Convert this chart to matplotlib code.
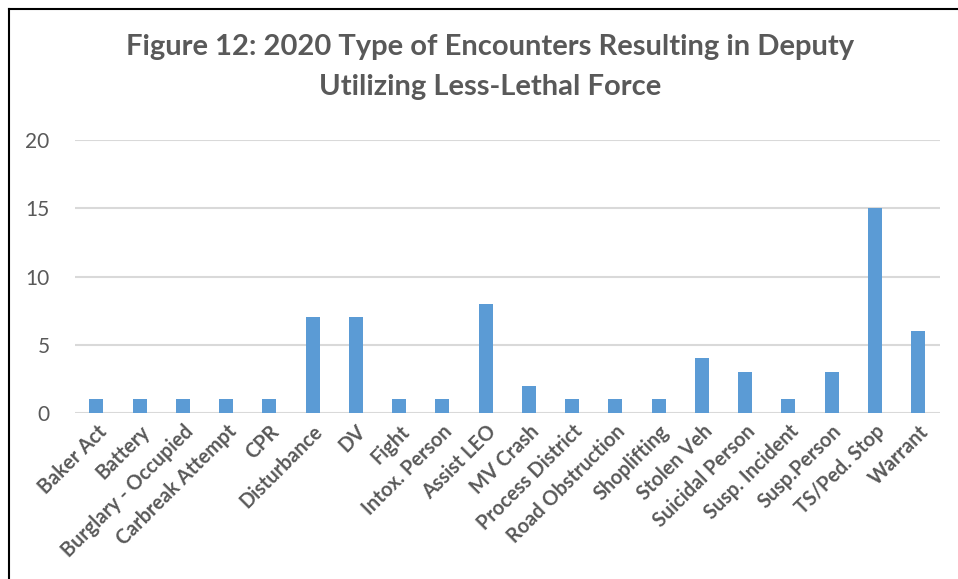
import matplotlib.pyplot as plt
from matplotlib.lines import Line2D
import numpy as np

categories = ['Baker Act', 'Battery', 'Burglary - Occupied', 'Carbreak Attempt', 'CPR',
              'Disturbance', 'DV', 'Fight', 'Intox. Person', 'Assist LEO', 'MV Crash',
              'Process District', 'Road Obstruction', 'Shoplifting', 'Stolen Veh',
              'Suicidal Person', 'Susp. Incident', 'Susp.Person', 'TS/Ped. Stop', 'Warrant']
counts = [1, 1, 1, 1, 1, 7, 7, 1, 1, 8, 2, 1, 1, 1, 4, 3, 1, 3, 15, 6]
yticks = [0, 5, 10, 15, 20]

text_color = '#595959'
plt.rcParams['font.family'] = ['Lato', 'DejaVu Sans']

fig = plt.figure(figsize=(9.58, 5.79), dpi=100)
ax = fig.add_axes([0.078, 0.2867, 0.903, 0.4715])

x = np.arange(len(categories))
ax.bar(x, counts, width=0.32, color='#5b9bd5', zorder=3)

ax.set_ylim(0, 20)
ax.set_xlim(-0.5, len(categories) - 0.5)
ax.set_yticks(yticks)
ax.set_yticklabels([str(t) for t in yticks], fontsize=15, color=text_color)
ax.set_xticks(x)
ax.set_xticklabels(categories, rotation=45, ha='right', rotation_mode='anchor',
                   fontsize=14.3, fontweight='bold', color=text_color)
ax.tick_params(axis='both', length=0)
ax.tick_params(axis='y', pad=18)
ax.tick_params(axis='x', pad=6)
ax.grid(axis='y', color='#d9d9d9', linewidth=1.5, zorder=0)
for s in ax.spines.values():
    s.set_visible(False)

fig.text(0.512, 0.918, 'Figure 12: 2020 Type of Encounters Resulting in Deputy',
         ha='center', va='center', fontsize=21, fontweight='bold', color=text_color)
fig.text(0.512, 0.850, 'Utilizing Less-Lethal Force',
         ha='center', va='center', fontsize=21, fontweight='bold', color=text_color)

# frame around the chart
fig.add_artist(Line2D([8.5 / 958, 8.5 / 958], [0, 1 - 8.5 / 579], color='black', linewidth=1.5,
                      transform=fig.transFigure))
fig.add_artist(Line2D([8.5 / 958, 1], [1 - 8.5 / 579, 1 - 8.5 / 579], color='black', linewidth=1.5,
                      transform=fig.transFigure))

fig.savefig('out.png', dpi=100)
